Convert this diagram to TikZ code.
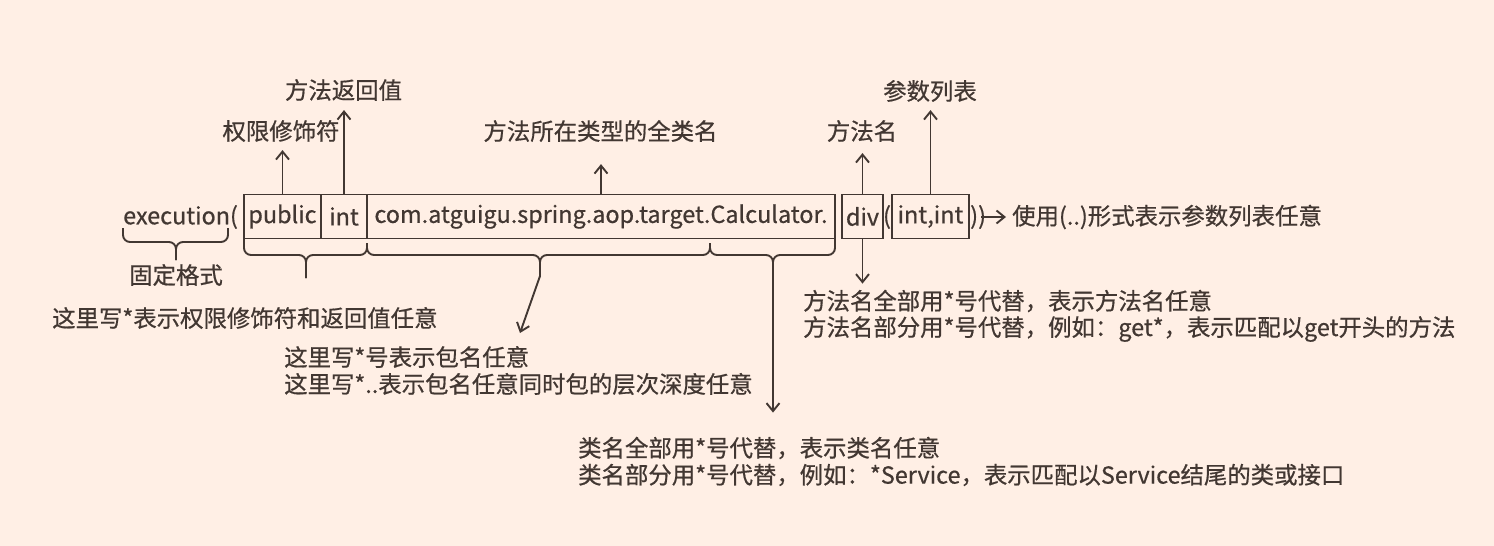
\documentclass[tikz,border=0pt]{standalone}
\usepackage{fontspec}
\setmainfont[FakeBold=0.6]{Noto Sans CJK SC}
\usetikzlibrary{arrows.meta}
\definecolor{bg}{RGB}{255,239,229}
\definecolor{ink}{RGB}{66,55,50}
\begin{document}
\begin{tikzpicture}[x=1pt,y=-1pt,
  lbl/.style={inner sep=0pt, font=\fontsize{23.4}{28}\selectfont, text=ink},
  cell/.style={lbl, draw=ink, line width=1.9pt, minimum height=44pt},
  arr/.style={draw=ink, line width=1.9pt, -{Straight Barb[length=8pt,width=13pt]}},
  brc/.style={draw=ink, line width=1.9pt, rounded corners=7pt}]
\fill[bg] (0,0) rectangle (1494,546);
\useasboundingbox (0,0) rectangle (1494,546);

% expression row
\node[lbl, anchor=west] (exec) at (123,217) {execution(};
\node[cell, minimum width=77pt] (pub) at (282.5,216.5) {public};
\node[cell, minimum width=46pt] (int) at (344,216.5) {int};
\node[cell, minimum width=468pt] (com) at (601,216.5) {com.atguigu.spring.aop.target.Calculator.};
\node[cell, minimum width=41pt] (div) at (862.5,216.5) {div};
\node[lbl] (op) at (887,217) {(};
\node[cell, minimum width=77pt] (args) at (930.5,216.5) {int,int};
\node[lbl, anchor=west] (cp) at (970,217) {))};
\node[lbl, anchor=west] (use) at (1012,217) {使用(..)形式表示参数列表任意};

% upper labels
\node[lbl] (lmod) at (281,131) {权限修饰符};
\node[lbl] (lret) at (343.5,90) {方法返回值};
\node[lbl] (lcls) at (600.5,131) {方法所在类型的全类名};
\node[lbl] (lmeth) at (862,131) {方法名};
\node[lbl] (lpar) at (930,91) {参数列表};

\draw[arr, shorten >=8pt] (pub.north) -- (pub.north |- lmod.south);
\draw[arr, shorten >=9pt] (int.north) -- (int.north |- lret.south);
\draw[arr, shorten >=22pt] (com.north) -- (com.north |- lcls.south);
\draw[arr, shorten >=11pt] (div.north) -- (div.north |- lmeth.south);
\draw[arr, shorten >=8pt] (args.north) -- (args.north |- lpar.south);
\draw[arr, shorten >=6pt] ([xshift=-5pt]cp.east) -- (use.west);

% lower labels
\node[lbl] (fix) at (176,275) {固定格式};
\node[lbl, anchor=west] (any) at (52,318) {这里写*表示权限修饰符和返回值任意};
\node[lbl, anchor=west] (pk1) at (284,357) {这里写*号表示包名任意};
\node[lbl, anchor=west] (pk2) at (284,384) {这里写*..表示包名任意同时包的层次深度任意};
\node[lbl, anchor=west] (cl1) at (578,448) {类名全部用*号代替，表示类名任意};
\node[lbl, anchor=west] (cl2) at (578,475) {类名部分用*号代替，例如：*Service，表示匹配以Service结尾的类或接口};
\node[lbl, anchor=west] (me1) at (803,301) {方法名全部用*号代替，表示方法名任意};
\node[lbl, anchor=west] (me2) at (803,329) {方法名部分用*号代替，例如：get*，表示匹配以get开头的方法};

% braces
\draw[brc] (123,228) -- (123,242) -- (176,242) -- (176,260);
\draw[brc] (228,228) -- (228,242) -- (176,242) -- (176,260);
\draw[brc] (244,238) -- (244,255) -- (306,255) -- (306,278);
\draw[brc] (367,243) -- (367,255) -- (306,255) -- (306,278);
\draw[brc] (367,243) -- (367,255) -- (540,255) -- (540,277);
\draw[brc] (710,243) -- (710,255) -- (540,255) -- (540,277);
\draw[brc] (710,243) -- (710,255) -- (773,255) -- (773,277);
\draw[brc] (835,238) -- (835,255) -- (773,255) -- (773,277);

\coordinate (pkTip) at (540,276);
\coordinate (pkEnd) at (520,333);
\coordinate (clTip) at (773,276);
\draw[arr] (pkTip) -- (pkEnd);
\draw[arr, shorten >=24pt] (clTip) -- (clTip |- cl1.north);
\draw[arr, shorten >=6pt] (div.south) -- (div.south |- me1.north);
\end{tikzpicture}
\end{document}
